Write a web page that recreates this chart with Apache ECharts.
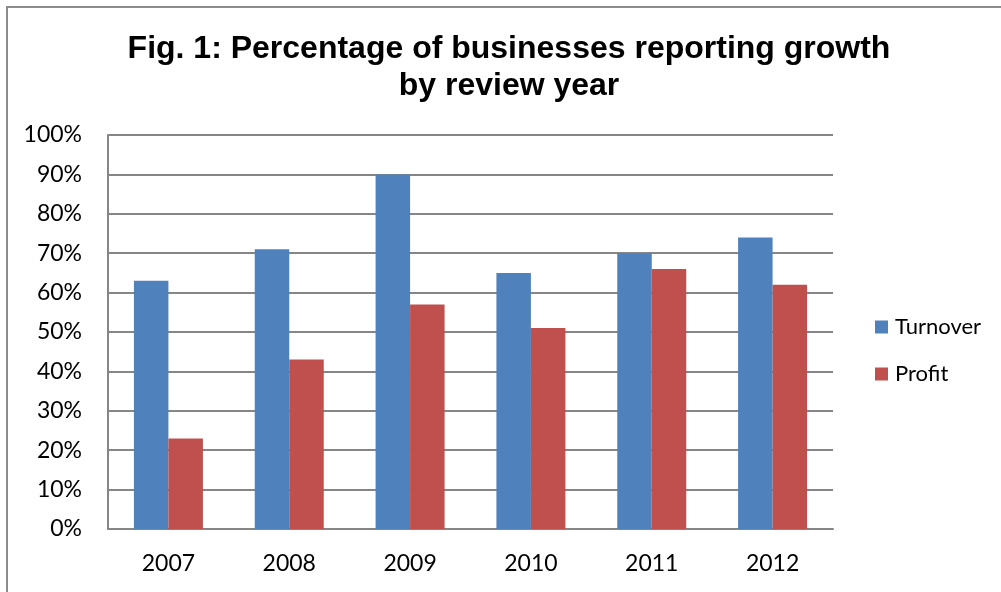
<!DOCTYPE html>
<html>
<head>
<meta charset="utf-8">
<script src="https://cdn.jsdelivr.net/npm/echarts@6/dist/echarts.min.js"></script>
<style>
  html, body { margin: 0; padding: 0; background: #ffffff; }
  #chart { width: 1001px; height: 592px; }
</style>
</head>
<body>
<div id="chart"></div>
<script>
// Review years along the category axis
const years = ['2007', '2008', '2009', '2010', '2011', '2012'];
// Share of businesses reporting growth, percent
const turnover = [63, 71, 90, 65, 70, 74];
const profit = [23, 43, 57, 51, 66, 62];
// Value axis range and step, percent
const yMin = 0;
const yMax = 100;
const yStep = 10;

const labelFont = 'Lato, "Noto Sans", sans-serif';

const chart = echarts.init(document.getElementById('chart'), null, { renderer: 'canvas' });

chart.setOption({
  animation: false,
  backgroundColor: '#ffffff',
  title: {
    text: 'Fig. 1: Percentage of businesses reporting growth\nby review year',
    left: 509,
    top: 31,
    padding: 0,
    textAlign: 'center',
    textStyle: {
      fontFamily: '"Liberation Sans", Arial, sans-serif',
      fontWeight: 'bold',
      fontSize: 32,
      lineHeight: 37,
      color: '#000000'
    }
  },
  graphic: [{
    type: 'rect',
    shape: { x: 7, y: 7, width: 1020, height: 620 },
    style: { fill: 'none', stroke: '#8c8c8c', lineWidth: 2 },
    silent: true
  }],
  legend: {
    orient: 'vertical',
    left: 875,
    top: 316,
    padding: 0,
    itemWidth: 13,
    itemHeight: 13,
    itemGap: 25,
    icon: 'rect',
    textStyle: {
      fontFamily: labelFont,
      fontSize: 22,
      color: '#000000',
      padding: [0, 0, 0, 2]
    },
    data: ['Turnover', 'Profit']
  },
  grid: {
    left: 108,
    right: 168,
    top: 135,
    bottom: 63,
    containLabel: false
  },
  xAxis: {
    type: 'category',
    data: years,
    axisLine: { show: true, lineStyle: { color: '#868686', width: 2 } },
    axisTick: { show: false },
    axisLabel: {
      margin: 23,
      fontFamily: labelFont,
      fontSize: 23,
      color: '#000000'
    }
  },
  yAxis: {
    type: 'value',
    min: yMin,
    max: yMax,
    interval: yStep,
    axisLine: { show: true, lineStyle: { color: '#868686', width: 2 } },
    axisTick: { show: false },
    axisLabel: {
      margin: 26,
      formatter: '{value}%',
      fontFamily: labelFont,
      fontSize: 23,
      color: '#000000'
    },
    splitLine: { show: true, lineStyle: { color: '#868686', width: 2 } }
  },
  series: [
    {
      name: 'Turnover',
      type: 'bar',
      data: turnover,
      barWidth: 34.5,
      barGap: '0%',
      itemStyle: { color: '#4F81BD' }
    },
    {
      name: 'Profit',
      type: 'bar',
      data: profit,
      barWidth: 34.5,
      barGap: '0%',
      itemStyle: { color: '#C0504D' }
    }
  ]
});
</script>
</body>
</html>
